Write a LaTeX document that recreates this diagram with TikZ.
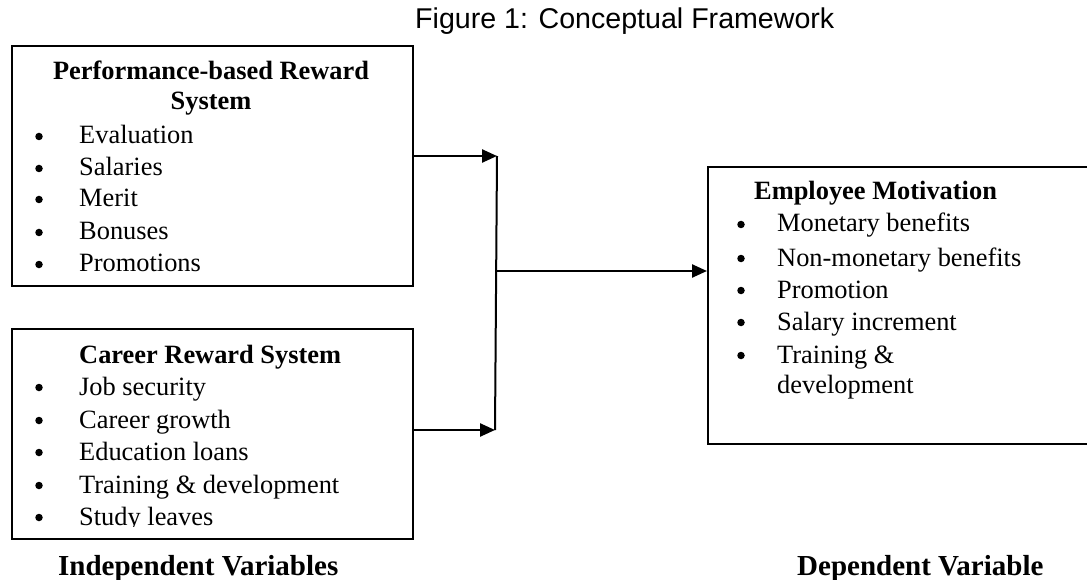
\documentclass[tikz,border=0pt]{standalone}
\usepackage{fontspec}
\setmainfont{Liberation Serif}
\newfontfamily\captionfont{Liberation Sans}
\usetikzlibrary{arrows.meta}
\tikzset{
  box/.style={draw, line width=2pt, anchor=north west, inner sep=0pt},
  txt/.style={anchor=base west, inner sep=0pt, font=\fontsize{26.4}{30}\selectfont},
  ctr/.style={anchor=base, inner sep=0pt, font=\fontsize{26.4}{30}\selectfont\bfseries},
  head/.style={txt, font=\fontsize{26.4}{30}\selectfont\bfseries},
  label/.style={anchor=base west, inner sep=0pt, font=\fontsize{29}{32}\selectfont\bfseries},
  dot/.style={circle, fill, inner sep=0pt, minimum size=7.5pt},
  link/.style={line width=2.4pt, -{Triangle[length=15pt,width=13pt]}},
  spine/.style={line width=2pt}
}
\begin{document}
\begin{tikzpicture}[x=1pt,y=-1pt]
\useasboundingbox (0,0) rectangle (1087,580);

% caption
\node[anchor=base west, inner sep=0pt, font=\captionfont\fontsize{28.6}{32}\selectfont] (cap) at (415,29) {Figure 1: Conceptual Framework};

% boxes
\node[box, minimum width=401pt, minimum height=240pt] (perf) at (11,45) {};
\node[box, minimum width=401pt, minimum height=210pt] (career) at (11,328) {};
\node[box, minimum width=390pt, minimum height=277pt] (motiv) at (707,166) {};

% performance-based reward system
\node[ctr] (pt1) at (211,80) {Performance-based Reward};
\node[ctr] (pt2) at (211,110) {System};
\foreach \y/\t [count=\i] in {144/Evaluation,176/Salaries,207/Merit,240/Bonuses,272/Promotions}{
  \node[dot] (pb\i) at (39,\y-7.5) {};
  \node[txt] (pi\i) at (79,\y) {\t};
}

% career reward system
\node[head] (ct) at (79,363) {Career Reward System};
\foreach \y/\t [count=\i] in {395/Job security,428/Career growth,460/Education loans,493/Training \& development}{
  \node[dot] (cb\i) at (39,\y-7.5) {};
  \node[txt] (ci\i) at (79,\y) {\t};
}
\node[dot] (cb5) at (39,525-7.5) {};
\begin{scope}
  \clip (0,0) rectangle (420,526);
  \node[txt] (ci5) at (79,525) {Study leaves};
\end{scope}

% employee motivation
\node[head] (mt) at (754,200) {Employee Motivation};
\foreach \y/\t [count=\i] in {232/Monetary benefits,266/Non-monetary benefits,298/Promotion,330/Salary increment,363/Training \&}{
  \node[dot] (mb\i) at (741,\y-7.5) {};
  \node[txt] (mi\i) at (777,\y) {\t};
}
\node[txt] (mi6) at (777,393) {development};

% variable labels
\node[label] (indep) at (58,575) {Independent Variables};
\node[label] (dep) at (797,575) {Dependent Variable};

% connectors
\coordinate (jtop) at (497,156);
\coordinate (jbot) at (495,430);
\coordinate (jmid) at (496,271);
\draw[link] (perf.east |- jtop) -- (jtop);
\draw[link] (career.east |- jbot) -- (jbot);
\draw[spine] (jtop) -- (jbot);
\draw[link] (jmid) -- (motiv.west |- jmid);
\end{tikzpicture}
\end{document}
